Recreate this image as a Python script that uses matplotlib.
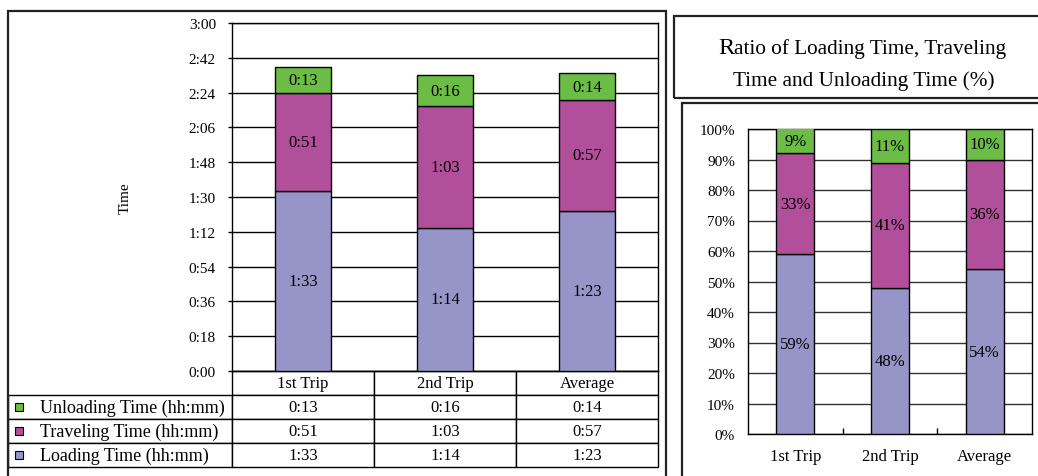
import numpy as np
import matplotlib
matplotlib.use("Agg")
import matplotlib.pyplot as plt
from matplotlib.patches import Rectangle
from matplotlib.ticker import FuncFormatter, MultipleLocator

plt.rcParams['font.family'] = ['Liberation Serif', 'DejaVu Serif']

# trip times in minutes
trips = ["1st Trip", "2nd Trip", "Average"]
loading_min = [93, 74, 83]
traveling_min = [51, 63, 57]
unloading_min = [13, 16, 14]

# share of each stage, percent
loading_pct = [59, 48, 54]
traveling_pct = [33, 41, 36]
unloading_pct = [9, 11, 10]

series_names = ["Unloading Time (hh:mm)", "Traveling Time (hh:mm)", "Loading Time (hh:mm)"]
c_load = '#9794c8'
c_trav = '#b24f9b'
c_unld = '#6bbd45'

W, H = 1038, 477


def hm(m, pos=None):
    m = int(round(m))
    return "%d:%02d" % (m // 60, m % 60)


def fx(px):
    return px / W


def fy(py):
    return 1 - py / H


fig = plt.figure(figsize=(10.38, 4.77), dpi=100)

# panel frames
fig.patches.append(Rectangle((fx(8), fy(520)), fx(666) - fx(8), fy(12) - fy(520),
                             transform=fig.transFigure, fill=False, ec='#222', lw=1.6))
fig.patches.append(Rectangle((fx(674), fy(99)), fx(1060) - fx(674), fy(17) - fy(99),
                             transform=fig.transFigure, fill=False, ec='#222', lw=1.6))
fig.patches.append(Rectangle((fx(682), fy(520)), fx(1060) - fx(682), fy(104) - fy(520),
                             transform=fig.transFigure, fill=False, ec='#222', lw=1.6))

# ---- left: stacked minutes with data table
ax_w, ax_h = 658 - 232, 372 - 24
ax = fig.add_axes([fx(232), fy(372), fx(658) - fx(232), fy(24) - fy(372)])
x = np.arange(len(trips))
bw = 0.39
load = np.array(loading_min)
trav = np.array(traveling_min)
unld = np.array(unloading_min)
ax.bar(x, load, bw, color=c_load, edgecolor='black', lw=1, zorder=3)
ax.bar(x, trav, bw, bottom=load, color=c_trav, edgecolor='black', lw=1, zorder=3)
ax.bar(x, unld, bw, bottom=load + trav, color=c_unld, edgecolor='black', lw=1, zorder=3)
for i in range(len(trips)):
    ax.text(x[i], load[i] / 2, hm(load[i]), ha='center', va='center', fontsize=12, zorder=4)
    ax.text(x[i], load[i] + trav[i] / 2, hm(trav[i]), ha='center', va='center', fontsize=12, zorder=4)
    ax.text(x[i], load[i] + trav[i] + unld[i] / 2, hm(unld[i]), ha='center', va='center',
            fontsize=12, zorder=4)

ax.set_xlim(-0.5, 2.5)
ax.set_ylim(0, 180)
ax.yaxis.set_major_locator(MultipleLocator(18))
ax.yaxis.set_major_formatter(FuncFormatter(hm))
ax.grid(axis='y', color='black', lw=1, zorder=0)
ax.set_xticks([])
ax.tick_params(axis='y', labelsize=11, length=3, width=1, pad=8.6)
ax.set_ylabel("Time", fontsize=11)
ax.yaxis.set_label_coords(-0.235, 0.5)
for s in ax.spines.values():
    s.set_linewidth(1)

# data table under the bars; bbox covers the value columns, row labels hang left
row_h = 24 / ax_h
lab_w = 224
cell_text = [[hm(v) for v in unloading_min],
             [hm(v) for v in traveling_min],
             [hm(v) for v in loading_min]]
tbl = ax.table(cellText=cell_text, rowLabels=series_names, colLabels=trips,
               cellLoc='center', rowLoc='left',
               bbox=[0, -4 * row_h, 1, 4 * row_h])
tbl._autoColumns = []  # keep the fixed width of the label column
tbl.auto_set_font_size(False)
tbl.set_fontsize(12)
for (r, c), cell in tbl.get_celld().items():
    cell.set_linewidth(1)
    if c == -1:
        cell.set_width(lab_w / ax_w)
        cell.PAD = 32 / lab_w
        cell.get_text().set_fontsize(13)
    else:
        cell.set_width(142 / ax_w)
    cell.set_height(row_h)

for i, col in enumerate([c_unld, c_trav, c_load]):
    ax.plot((18.5 - 232) / ax_w, -(i + 1.5) * row_h, marker='s', ms=6, mfc=col,
            mec='black', mew=0.8, transform=ax.transAxes, clip_on=False)

# ---- right: stacked percentages
ax2 = fig.add_axes([fx(748), fy(435), fx(1032) - fx(748), fy(130) - fy(435)])
bw2 = 0.4
lp = np.array(loading_pct)
tp = np.array(traveling_pct)
up = np.array(unloading_pct)
ax2.bar(x, lp, bw2, color=c_load, edgecolor='black', lw=1, zorder=3)
ax2.bar(x, tp, bw2, bottom=lp, color=c_trav, edgecolor='black', lw=1, zorder=3)
ax2.bar(x, up, bw2, bottom=lp + tp, color=c_unld, edgecolor='black', lw=1, zorder=3)
for i in range(len(trips)):
    ax2.text(x[i], lp[i] / 2, "%d%%" % lp[i], ha='center', va='center', fontsize=12, zorder=4)
    ax2.text(x[i], lp[i] + tp[i] / 2, "%d%%" % tp[i], ha='center', va='center', fontsize=12, zorder=4)
    top = min(lp[i] + tp[i] + up[i], 100)
    ax2.text(x[i], (lp[i] + tp[i] + top) / 2, "%d%%" % up[i], ha='center', va='center',
             fontsize=12, zorder=4)
ax2.set_xlim(-0.5, 2.5)
ax2.set_ylim(0, 100)
ax2.yaxis.set_major_locator(MultipleLocator(10))
ax2.yaxis.set_major_formatter(FuncFormatter(lambda v, p: "%d%%" % v))
ax2.grid(axis='y', color='#333', lw=1, zorder=0)
ax2.set_xticks(x)
ax2.set_xticklabels(trips)
ax2.set_xticks([0.5, 1.5], minor=True)
ax2.tick_params(axis='x', which='major', length=0, pad=10, labelsize=12)
ax2.tick_params(axis='x', which='minor', direction='in', length=4, width=1)
ax2.tick_params(axis='y', length=0, pad=9.4, labelsize=11)
for s in ax2.spines.values():
    s.set_linewidth(1)

# title box text, larger initial capital
fig.text(fx(734), fy(54), "R", fontsize=17.5, ha='right', va='baseline')
fig.text(fx(734), fy(54), "atio of Loading Time, Traveling", fontsize=15.3, ha='left', va='baseline')
fig.text(fx(864), fy(86), "Time and Unloading Time (%)", fontsize=15.3, ha='center', va='baseline')

fig.savefig("out.png", dpi=100)
